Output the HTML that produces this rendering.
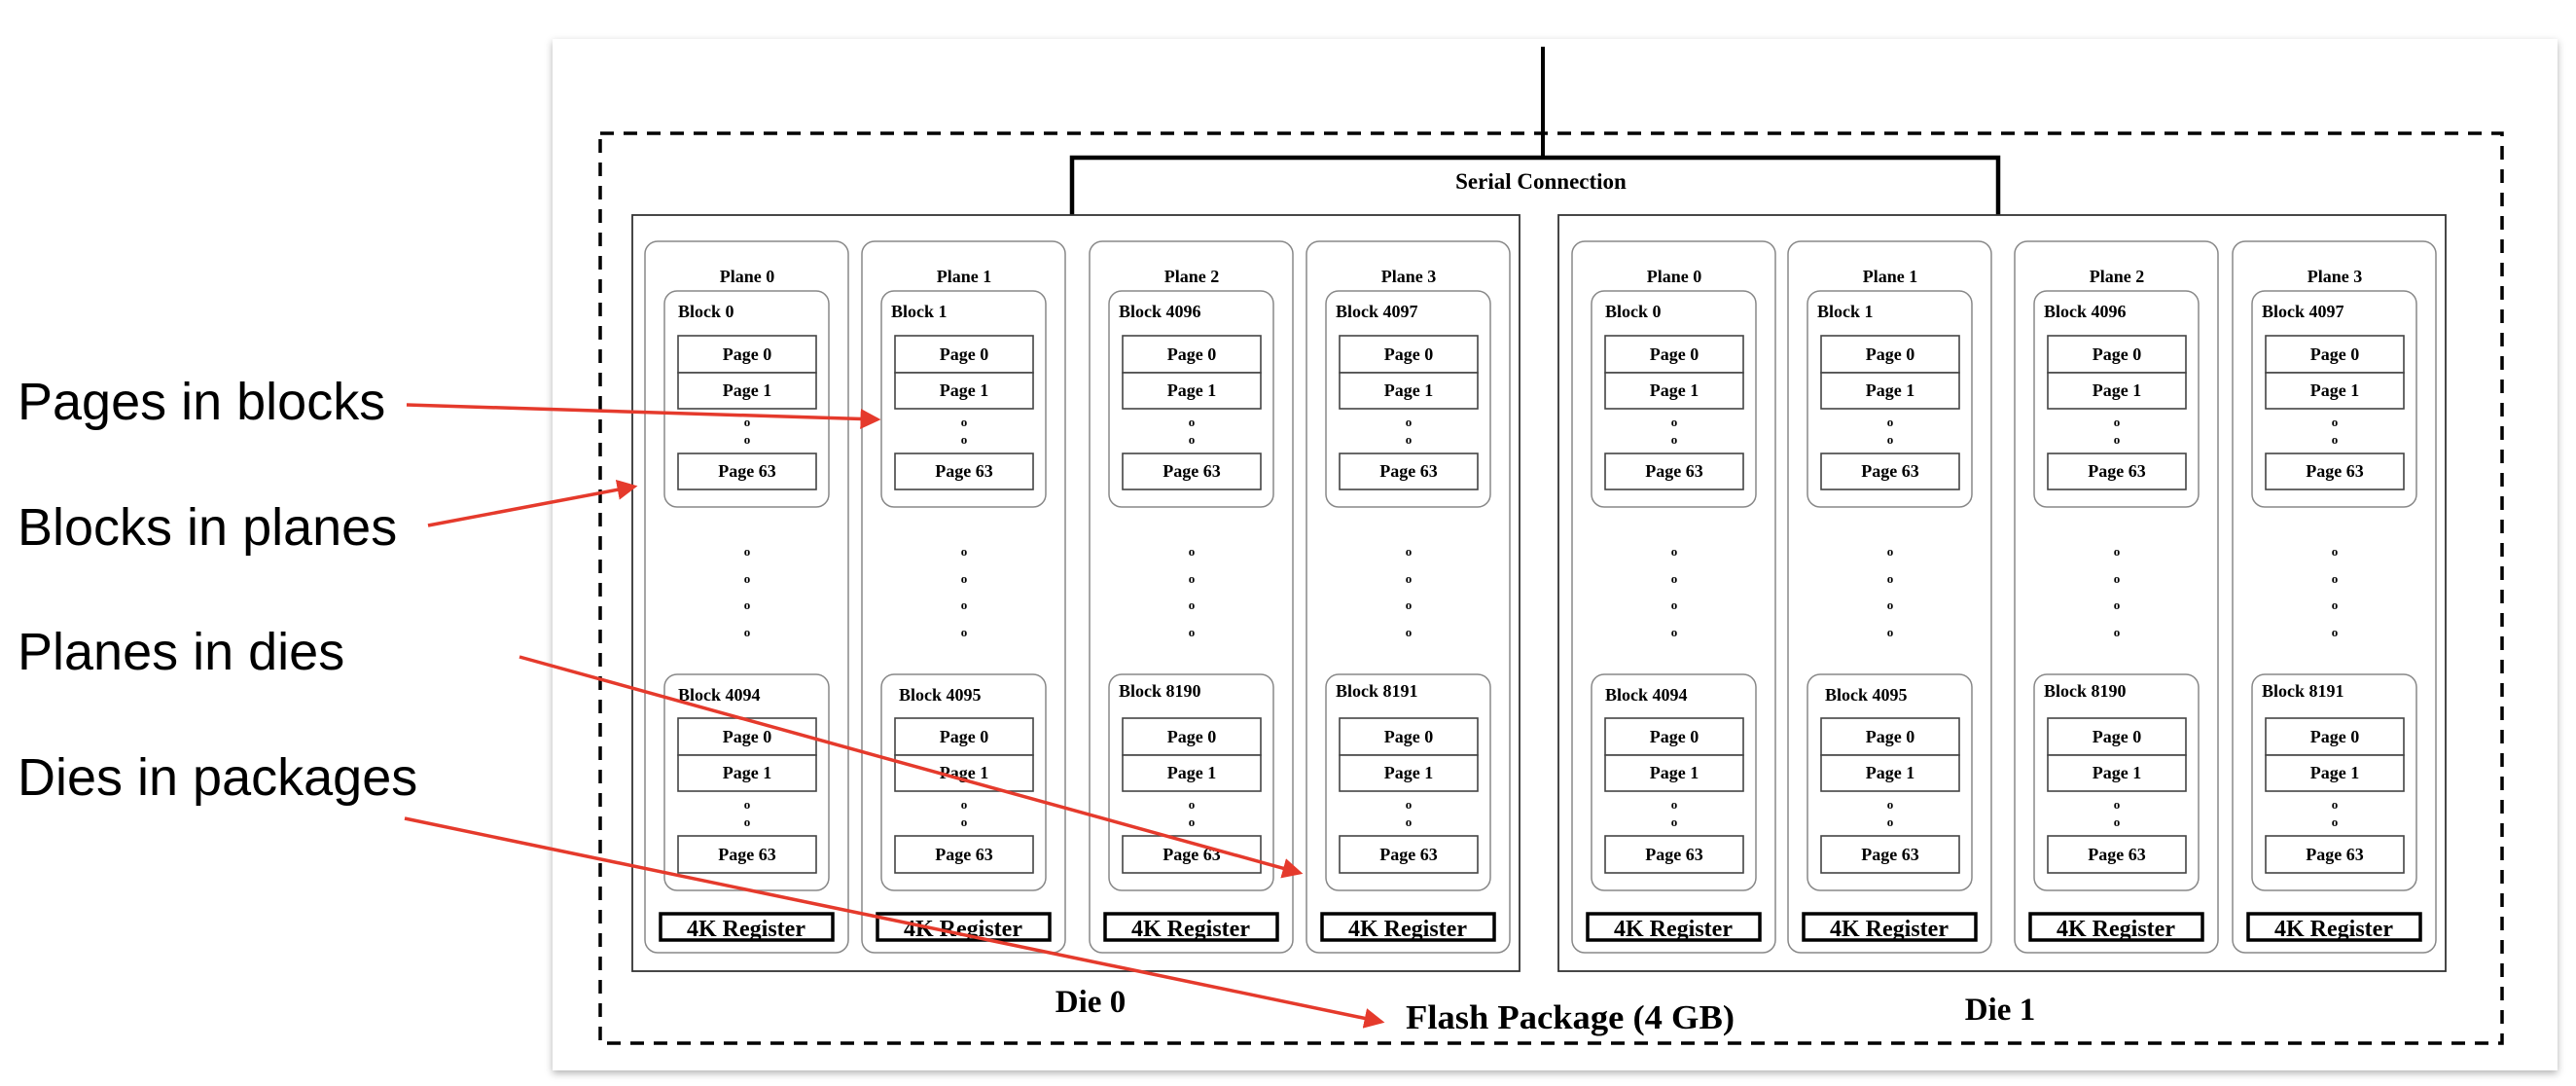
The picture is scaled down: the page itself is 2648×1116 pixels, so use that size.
<!DOCTYPE html>
<html><head><meta charset="utf-8"><style>
html,body{margin:0;padding:0;background:#fff;width:2648px;height:1116px;overflow:hidden}
svg{display:block}
.s{font-family:"Liberation Serif",serif;font-weight:bold;fill:#000}
.l{font-family:"Liberation Sans",sans-serif;fill:#000;font-size:54px}
</style></head><body>
<svg width="2648" height="1116" viewBox="0 0 2648 1116" xmlns="http://www.w3.org/2000/svg">
<defs>
<filter id="sh" x="-5%" y="-5%" width="110%" height="110%"><feDropShadow dx="0" dy="3" stdDeviation="4" flood-color="#000" flood-opacity="0.3"/></filter>
<marker id="ah" markerWidth="6" markerHeight="6" refX="5" refY="3" orient="auto" markerUnits="strokeWidth"><path d="M0,0 L6,3 L0,6 z" fill="#e53a2c"/></marker>
<g id="plane">
  <rect x="0" y="0" width="209" height="731" rx="13" fill="none" stroke="#888" stroke-width="1.5"/>
  <rect x="20" y="51" width="169" height="222" rx="13" fill="none" stroke="#888" stroke-width="1.5"/>
  <rect x="34" y="97" width="142" height="38" fill="#fff" stroke="#444" stroke-width="1.6"/>
  <rect x="34" y="135" width="142" height="37" fill="#fff" stroke="#444" stroke-width="1.6"/>
  <rect x="34" y="218" width="142" height="37" fill="#fff" stroke="#444" stroke-width="1.6"/>
  <text class="s" x="105" y="122" font-size="18" text-anchor="middle">Page 0</text>
  <text class="s" x="105" y="159" font-size="18" text-anchor="middle">Page 1</text>
  <text class="s" x="105" y="242" font-size="18" text-anchor="middle">Page 63</text>
  <text class="s" x="105" y="190" font-size="13" font-weight="normal" text-anchor="middle">o</text>
  <text class="s" x="105" y="208" font-size="13" font-weight="normal" text-anchor="middle">o</text>
  <text class="s" x="105" y="323" font-size="13" font-weight="normal" text-anchor="middle">o</text>
  <text class="s" x="105" y="351" font-size="13" font-weight="normal" text-anchor="middle">o</text>
  <text class="s" x="105" y="378" font-size="13" font-weight="normal" text-anchor="middle">o</text>
  <text class="s" x="105" y="406" font-size="13" font-weight="normal" text-anchor="middle">o</text>
  <rect x="20" y="445" width="169" height="222" rx="13" fill="none" stroke="#888" stroke-width="1.5"/>
  <rect x="34" y="490" width="142" height="38" fill="#fff" stroke="#444" stroke-width="1.6"/>
  <rect x="34" y="528" width="142" height="37" fill="#fff" stroke="#444" stroke-width="1.6"/>
  <rect x="34" y="611" width="142" height="38" fill="#fff" stroke="#444" stroke-width="1.6"/>
  <text class="s" x="105" y="515" font-size="18" text-anchor="middle">Page 0</text>
  <text class="s" x="105" y="552" font-size="18" text-anchor="middle">Page 1</text>
  <text class="s" x="105" y="636" font-size="18" text-anchor="middle">Page 63</text>
  <text class="s" x="105" y="583" font-size="13" font-weight="normal" text-anchor="middle">o</text>
  <text class="s" x="105" y="601" font-size="13" font-weight="normal" text-anchor="middle">o</text>
  <rect x="16" y="691" width="177" height="27" fill="#fff" stroke="#000" stroke-width="3.5"/>
  <text class="s" x="104" y="714" font-size="24" text-anchor="middle">4K Register</text>
</g>
</defs>

<rect x="568" y="40" width="2061" height="1060" fill="#fff" filter="url(#sh)"/>

<line x1="1586" y1="48" x2="1586" y2="162" stroke="#000" stroke-width="4"/>
<polyline points="1102,221 1102,162 2054,162 2054,221" fill="none" stroke="#000" stroke-width="4.5"/>
<text class="s" x="1584" y="194" font-size="23" text-anchor="middle">Serial Connection</text>

<rect x="617" y="137" width="1955" height="935" fill="none" stroke="#000" stroke-width="3.5" stroke-dasharray="14,10"/>

<rect x="650" y="221" width="912" height="777" fill="none" stroke="#333" stroke-width="1.8"/>
<rect x="1602" y="221" width="912" height="777" fill="none" stroke="#333" stroke-width="1.8"/>

<g transform="translate(663,248)"><use href="#plane"/><text class="s" x="105" y="42" font-size="18" text-anchor="middle">Plane 0</text><text class="s" x="34" y="78" font-size="18">Block 0</text><text class="s" x="34" y="472" font-size="18">Block 4094</text></g>
<g transform="translate(886,248)"><use href="#plane"/><text class="s" x="105" y="42" font-size="18" text-anchor="middle">Plane 1</text><text class="s" x="30" y="78" font-size="18">Block 1</text><text class="s" x="38" y="472" font-size="18">Block 4095</text></g>
<g transform="translate(1120,248)"><use href="#plane"/><text class="s" x="105" y="42" font-size="18" text-anchor="middle">Plane 2</text><text class="s" x="30" y="78" font-size="18">Block 4096</text><text class="s" x="30" y="468" font-size="18">Block 8190</text></g>
<g transform="translate(1343,248)"><use href="#plane"/><text class="s" x="105" y="42" font-size="18" text-anchor="middle">Plane 3</text><text class="s" x="30" y="78" font-size="18">Block 4097</text><text class="s" x="30" y="468" font-size="18">Block 8191</text></g>

<g transform="translate(1616,248)"><use href="#plane"/><text class="s" x="105" y="42" font-size="18" text-anchor="middle">Plane 0</text><text class="s" x="34" y="78" font-size="18">Block 0</text><text class="s" x="34" y="472" font-size="18">Block 4094</text></g>
<g transform="translate(1838,248)"><use href="#plane"/><text class="s" x="105" y="42" font-size="18" text-anchor="middle">Plane 1</text><text class="s" x="30" y="78" font-size="18">Block 1</text><text class="s" x="38" y="472" font-size="18">Block 4095</text></g>
<g transform="translate(2071,248)"><use href="#plane"/><text class="s" x="105" y="42" font-size="18" text-anchor="middle">Plane 2</text><text class="s" x="30" y="78" font-size="18">Block 4096</text><text class="s" x="30" y="468" font-size="18">Block 8190</text></g>
<g transform="translate(2295,248)"><use href="#plane"/><text class="s" x="105" y="42" font-size="18" text-anchor="middle">Plane 3</text><text class="s" x="30" y="78" font-size="18">Block 4097</text><text class="s" x="30" y="468" font-size="18">Block 8191</text></g>

<text class="s" x="1121" y="1040" font-size="33" text-anchor="middle">Die 0</text>
<text class="s" x="2056" y="1048" font-size="33" text-anchor="middle">Die 1</text>
<text class="s" x="1445" y="1057" font-size="35" textLength="338" lengthAdjust="spacingAndGlyphs">Flash Package (4 GB)</text>

<text class="l" x="18" y="431">Pages in blocks</text>
<text class="l" x="18" y="560">Blocks in planes</text>
<text class="l" x="18" y="688">Planes in dies</text>
<text class="l" x="18" y="817">Dies in packages</text>

<g stroke="#e53a2c" stroke-width="3.5" fill="none">
<line x1="418" y1="416" x2="902" y2="431" marker-end="url(#ah)"/>
<line x1="440" y1="540" x2="652" y2="500" marker-end="url(#ah)"/>
<line x1="534" y1="675" x2="1336" y2="897" marker-end="url(#ah)"/>
<line x1="416" y1="841" x2="1420" y2="1050" marker-end="url(#ah)"/>
</g>
</svg>
</body></html>
